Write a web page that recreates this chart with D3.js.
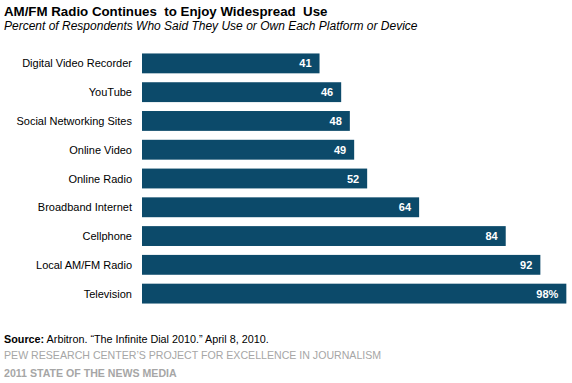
<!DOCTYPE html>
<html><head><meta charset="utf-8">
<script src="https://cdn.jsdelivr.net/npm/d3@7"></script>
<style>body{margin:0;background:#fff;}svg{display:block;font-family:Arial,"Liberation Sans",sans-serif;}</style>
</head><body>
<script>
const categories = ["Digital Video Recorder","YouTube","Social Networking Sites","Online Video","Online Radio","Broadband Internet","Cellphone","Local AM/FM Radio","Television"];
const values = [41,46,48,49,52,64,84,92,98];
const valueLabels = ["41","46","48","49","52","64","84","92","98%"];

const W=572,H=383;
const svg=d3.select("body").append("svg").attr("width",W).attr("height",H);
const x=d3.scaleLinear().domain([0,100]).range([142,575]);
const y=d3.scaleBand().domain(categories).range([49,308]).paddingInner(0.31).paddingOuter(0.155);

svg.append("text").attr("x",4).attr("y",16).attr("font-size",13.3).attr("font-weight","bold").attr("fill","#000").attr("xml:space","preserve").text("AM/FM Radio Continues  to Enjoy Widespread  Use");
svg.append("text").attr("x",4).attr("y",30).attr("font-size",12).attr("font-style","italic").attr("fill","#000").text("Percent of Respondents Who Said They Use or Own Each Platform or Device");

svg.selectAll("rect.bar").data(values).join("rect").attr("class","bar")
  .attr("x",x(0)).attr("y",(d,i)=>y(categories[i])).attr("width",d=>x(d)-x(0)).attr("height",y.bandwidth()).attr("fill","#0c4a6a");

svg.selectAll("text.cat").data(categories).join("text").attr("class","cat")
  .attr("x",132).attr("y",d=>y(d)+y.bandwidth()/2+4).attr("text-anchor","end").attr("font-size",11).attr("fill","#000").text(d=>d);

svg.selectAll("text.val").data(values).join("text").attr("class","val")
  .attr("x",d=>x(d)-8).attr("y",(d,i)=>y(categories[i])+y.bandwidth()/2+4).attr("text-anchor","end")
  .attr("font-size",11).attr("font-weight","bold").attr("fill","#fff").text((d,i)=>valueLabels[i]);

const src=svg.append("text").attr("x",4).attr("y",343).attr("font-size",10.8).attr("fill","#000");
src.append("tspan").attr("font-weight","bold").text("Source:");
src.append("tspan").text(" Arbitron. \u201cThe Infinite Dial 2010.\u201d April 8, 2010.");
svg.append("text").attr("x",4).attr("y",359).attr("font-size",10.6).attr("fill","#a6a6a6").text("PEW RESEARCH CENTER\u2019S PROJECT FOR EXCELLENCE IN JOURNALISM");
svg.append("text").attr("x",4).attr("y",377).attr("font-size",10.6).attr("font-weight","bold").attr("fill","#a6a6a6").text("2011 STATE OF THE NEWS MEDIA");
</script>
</body></html>
